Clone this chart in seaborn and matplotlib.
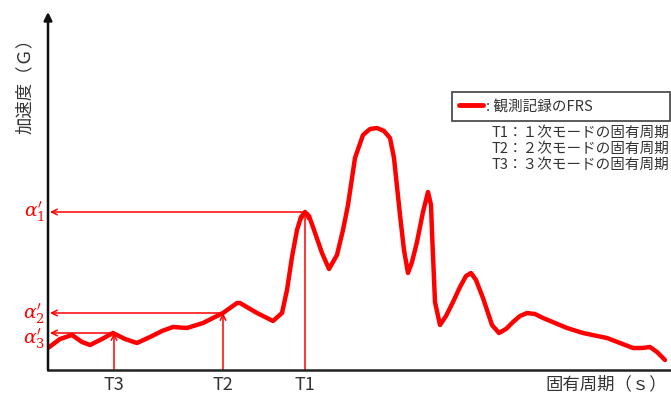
import numpy as np
import pandas as pd
import matplotlib
matplotlib.use("Agg")
import matplotlib.pyplot as plt
import seaborn as sns
from matplotlib.lines import Line2D

# Floor response spectrum (period vs. acceleration), arbitrary units
period = [0, 12, 24, 34, 42, 54, 65, 77, 89, 102, 114, 125, 139, 155, 175, 189,
          192, 209, 225, 234, 239, 244, 249, 253, 257, 261, 265, 274, 281,
          289, 295, 300, 307, 315, 322, 329, 336, 342, 346, 352, 356, 360,
          364, 369, 375, 380, 383, 384, 387, 392, 398, 405, 412, 418, 423,
          428, 435, 444, 451, 458, 465, 472, 479, 487, 495, 507, 519, 535,
          559, 572, 585, 594, 602, 609, 617]
accel = [22, 31, 35, 28, 25, 31, 37, 31, 27, 33, 39, 43, 42, 47, 57, 67,
         67, 57, 49, 57, 80, 113, 140, 153, 158, 154, 143, 117, 101,
         115, 140, 165, 212, 235, 241, 242, 239, 232, 212, 155, 120, 97,
         108, 128, 158, 178, 165, 138, 68, 45, 54, 68, 83, 94, 97,
         90, 72, 45, 37, 41, 48, 54, 57, 56, 52, 47, 42, 37,
         32, 27, 22, 22, 23, 18, 10]

# Natural periods of the first three modes and the read-off accelerations
mode_labels = ["T1", "T2", "T3"]
mode_period = [257, 175, 66]
mode_accel = [158, 57, 37]
accel_labels = [r"$\alpha^{\prime}_{1}$", r"$\alpha^{\prime}_{2}$",
                r"$\alpha^{\prime}_{3}$"]
accel_label_pos = [158, 56, 31]

legend_label = ": 観測記録のFRS"
note_lines = ["T1：１次モードの固有周期",
              "T2：２次モードの固有周期",
              "T3：３次モードの固有周期"]
xlabel = "固有周期（ｓ）"
ylabel = "加速度（Ｇ）"

sns.set_theme(style="white")
plt.rcParams["font.family"] = ["Noto Sans CJK JP", "DejaVu Sans"]
plt.rcParams["mathtext.fontset"] = "dejavuserif"

W, H = 671, 393
fig = plt.figure(figsize=(W / 100, H / 100), dpi=100)
x0, y0, x1, y1 = 48, 370, 671, 12
ax = fig.add_axes([x0 / W, (H - y0) / H, (x1 - x0) / W, (y0 - y1) / H])
ax.set_xlim(0, x1 - x0)
ax.set_ylim(0, y0 - y1)

df = pd.DataFrame({"period": period, "accel": accel})
red = "#ff0000"
sns.lineplot(data=df, x="period", y="accel", ax=ax, color=red, lw=3.2,
             sort=False, solid_joinstyle="round", solid_capstyle="round",
             zorder=3)

# Reading arrows: up from each period, across to the acceleration axis
for T, a in zip(mode_period, mode_accel):
    ax.annotate("", xy=(T, a), xytext=(T, 0),
                arrowprops=dict(arrowstyle="->", color=red, lw=1.1,
                                shrinkA=0, shrinkB=0, mutation_scale=10),
                zorder=2)
    ax.annotate("", xy=(2, a), xytext=(T, a),
                arrowprops=dict(arrowstyle="->", color=red, lw=1.1,
                                shrinkA=0, shrinkB=0, mutation_scale=10),
                zorder=2)

for lab, T in zip(mode_labels, mode_period):
    ax.text(T, -15, lab, ha="center", va="center", fontsize=13,
            color="#333333", clip_on=False)

for lab, yv in zip(accel_labels, accel_label_pos):
    ax.text(-3, yv, lab, ha="right", va="center", fontsize=13.5,
            color=red, clip_on=False)

# Axes: plain bottom line, arrowed vertical axis
for s in ["top", "right", "left"]:
    ax.spines[s].set_visible(False)
ax.spines["bottom"].set_color("#222222")
ax.spines["bottom"].set_linewidth(1.8)
ax.annotate("", xy=(0, 1.0), xytext=(0, 0), xycoords="axes fraction",
            arrowprops=dict(arrowstyle="-|>", color="#111111", lw=1.8,
                            shrinkA=0, shrinkB=0, mutation_scale=12))
ax.set_xticks([])
ax.set_yticks([])
ax.set_xlabel("")
ax.set_ylabel("")

fig.text(667 / W, 1 - 384 / H, xlabel, ha="right", va="center",
         fontsize=12.5, color="#333333")
fig.text(25 / W, 1 - 82 / H, ylabel, ha="center", va="center",
         rotation=90, fontsize=12.5, color="#333333")

handle = Line2D([], [], color=red, lw=3.5)
leg = fig.legend([handle], [legend_label], loc="upper left",
                 bbox_to_anchor=(452 / W, 1 - 92 / H - 0.01, 218 / W, 0.01),
                 mode="expand", frameon=True, fancybox=False,
                 edgecolor="#222222", fontsize=10.5, handlelength=1.6,
                 handletextpad=0.2, borderpad=0.5, borderaxespad=0)
leg.get_frame().set_linewidth(1.3)
for t in leg.get_texts():
    t.set_color("#333333")

for i, line in enumerate(note_lines):
    fig.text(492 / W, 1 - (133 + 16 * i) / H, line, ha="left", va="center",
             fontsize=10.5, color="#333333")

fig.savefig("out.png", dpi=100)
